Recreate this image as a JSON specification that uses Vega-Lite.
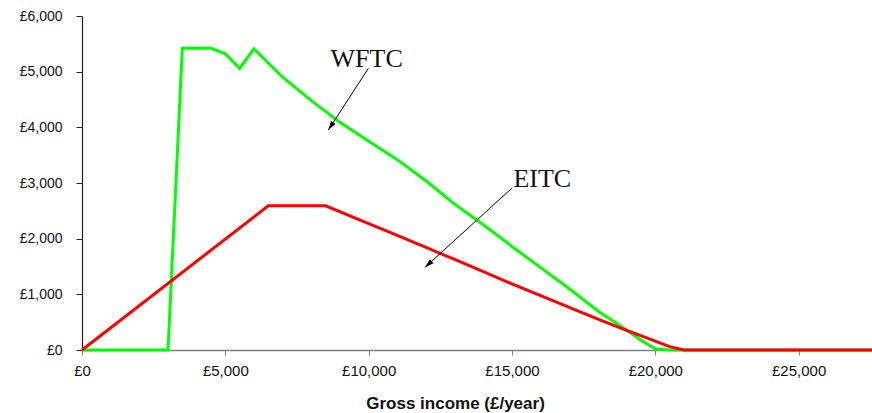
{
  "$schema": "https://vega.github.io/schema/vega-lite/v6.json",
  "width": 790,
  "height": 334,
  "autosize": "none",
  "padding": {"left": 82, "top": 16, "right": 0, "bottom": 63},
  "background": "white",
  "config": {
    "view": {"stroke": null},
    "font": "Liberation Sans",
    "axis": {"grid": false, "labelFont": "Liberation Sans", "labelColor": "#111"}
  },
  "datasets": {
    "credits": [
      {"income": 0, "series": "WFTC", "credit": 0},
      {"income": 3000, "series": "WFTC", "credit": 0},
      {"income": 3500, "series": "WFTC", "credit": 5420},
      {"income": 4500, "series": "WFTC", "credit": 5420},
      {"income": 5000, "series": "WFTC", "credit": 5320},
      {"income": 5500, "series": "WFTC", "credit": 5060},
      {"income": 6000, "series": "WFTC", "credit": 5410},
      {"income": 7000, "series": "WFTC", "credit": 4900},
      {"income": 8000, "series": "WFTC", "credit": 4480},
      {"income": 9000, "series": "WFTC", "credit": 4090},
      {"income": 10000, "series": "WFTC", "credit": 3750},
      {"income": 11000, "series": "WFTC", "credit": 3420},
      {"income": 12000, "series": "WFTC", "credit": 3040},
      {"income": 13000, "series": "WFTC", "credit": 2620},
      {"income": 14000, "series": "WFTC", "credit": 2250},
      {"income": 15000, "series": "WFTC", "credit": 1860},
      {"income": 16000, "series": "WFTC", "credit": 1480},
      {"income": 17000, "series": "WFTC", "credit": 1100},
      {"income": 18000, "series": "WFTC", "credit": 700},
      {"income": 19000, "series": "WFTC", "credit": 360},
      {"income": 19500, "series": "WFTC", "credit": 175},
      {"income": 20000, "series": "WFTC", "credit": 20},
      {"income": 20500, "series": "WFTC", "credit": 0},
      {"income": 27560, "series": "WFTC", "credit": 0},
      {"income": 0, "series": "EITC", "credit": 0},
      {"income": 6500, "series": "EITC", "credit": 2590},
      {"income": 8500, "series": "EITC", "credit": 2590},
      {"income": 10000, "series": "EITC", "credit": 2270},
      {"income": 11000, "series": "EITC", "credit": 2060},
      {"income": 12000, "series": "EITC", "credit": 1845},
      {"income": 13000, "series": "EITC", "credit": 1626},
      {"income": 14000, "series": "EITC", "credit": 1406},
      {"income": 15000, "series": "EITC", "credit": 1188},
      {"income": 16000, "series": "EITC", "credit": 976},
      {"income": 17000, "series": "EITC", "credit": 764},
      {"income": 18000, "series": "EITC", "credit": 556},
      {"income": 19000, "series": "EITC", "credit": 354},
      {"income": 20000, "series": "EITC", "credit": 160},
      {"income": 20500, "series": "EITC", "credit": 60},
      {"income": 21000, "series": "EITC", "credit": 0},
      {"income": 27560, "series": "EITC", "credit": 0}
    ],
    "labels": [
      {"label": "WFTC", "income": 8670, "credit": 5089},
      {"label": "EITC", "income": 15049, "credit": 2933}
    ],
    "arrows": [
      {"label": "WFTC", "income": 9990, "credit": 5060, "income2": 8594, "credit2": 3952},
      {"label": "EITC", "income": 14993, "credit": 2905, "income2": 11968, "credit2": 1486}
    ]
  },
  "layer": [
    {
      "data": {"name": "credits"},
      "transform": [{"filter": "datum.series === 'WFTC'"}],
      "mark": {"type": "line", "color": "#00ff00", "strokeWidth": 3, "strokeJoin": "miter"},
      "encoding": {
        "x": {
          "field": "income", "type": "quantitative",
          "scale": {"domain": [0, 27560], "nice": false, "zero": true},
          "axis": {
            "values": [0, 5000, 10000, 15000, 20000, 25000],
            "labelExpr": "'£' + format(datum.value, ',')",
            "labelFlush": false,
            "labelFontSize": 15,
            "domainColor": "#808080", "domainWidth": 1.5,
            "tickColor": "#808080", "tickSize": 5,
            "labelPadding": 8,
            "title": "Gross income (£/year)",
            "titleFont": "Liberation Sans", "titleFontSize": 17, "titleFontWeight": "bold",
            "titleColor": "#111",
            "titleX": 373, "titleY": 58, "titleBaseline": "alphabetic", "titleAlign": "center"
          }
        },
        "y": {
          "field": "credit", "type": "quantitative",
          "scale": {"domain": [0, 6000], "nice": false},
          "axis": {
            "values": [0, 1000, 2000, 3000, 4000, 5000, 6000],
            "labelExpr": "'£' + format(datum.value, ',')",
            "labelFontSize": 14,
            "domainColor": "#222", "domainWidth": 1.2,
            "tickColor": "#222", "tickSize": 6,
            "labelPadding": 14,
            "title": null
          }
        }
      }
    },
    {
      "data": {"name": "credits"},
      "transform": [{"filter": "datum.series === 'EITC'"}],
      "mark": {"type": "line", "color": "#ff0000", "strokeWidth": 3, "strokeJoin": "miter"},
      "encoding": {
        "x": {"field": "income", "type": "quantitative"},
        "y": {"field": "credit", "type": "quantitative"}
      }
    },
    {
      "data": {"name": "arrows"},
      "mark": {"type": "rule", "color": "black", "strokeWidth": 1},
      "encoding": {
        "x": {"field": "income", "type": "quantitative"},
        "y": {"field": "credit", "type": "quantitative"},
        "x2": {"field": "income2"},
        "y2": {"field": "credit2"}
      }
    },
    {
      "data": {"name": "arrows"},
      "transform": [{"filter": "datum.label === 'WFTC'"}],
      "mark": {"type": "point", "shape": "M0,0L-0.3,1L0.3,1Z", "filled": true, "color": "black", "opacity": 1, "size": 324, "angle": 213, "strokeWidth": 0},
      "encoding": {
        "x": {"field": "income2", "type": "quantitative"},
        "y": {"field": "credit2", "type": "quantitative"}
      }
    },
    {
      "data": {"name": "arrows"},
      "transform": [{"filter": "datum.label === 'EITC'"}],
      "mark": {"type": "point", "shape": "M0,0L-0.3,1L0.3,1Z", "filled": true, "color": "black", "opacity": 1, "size": 324, "angle": 227.6, "strokeWidth": 0},
      "encoding": {
        "x": {"field": "income2", "type": "quantitative"},
        "y": {"field": "credit2", "type": "quantitative"}
      }
    },
    {
      "data": {"name": "labels"},
      "mark": {"type": "text", "font": "Liberation Serif", "fontSize": 26, "align": "left", "baseline": "alphabetic", "color": "#111"},
      "encoding": {
        "x": {"field": "income", "type": "quantitative"},
        "y": {"field": "credit", "type": "quantitative"},
        "text": {"field": "label"}
      }
    }
  ]
}
